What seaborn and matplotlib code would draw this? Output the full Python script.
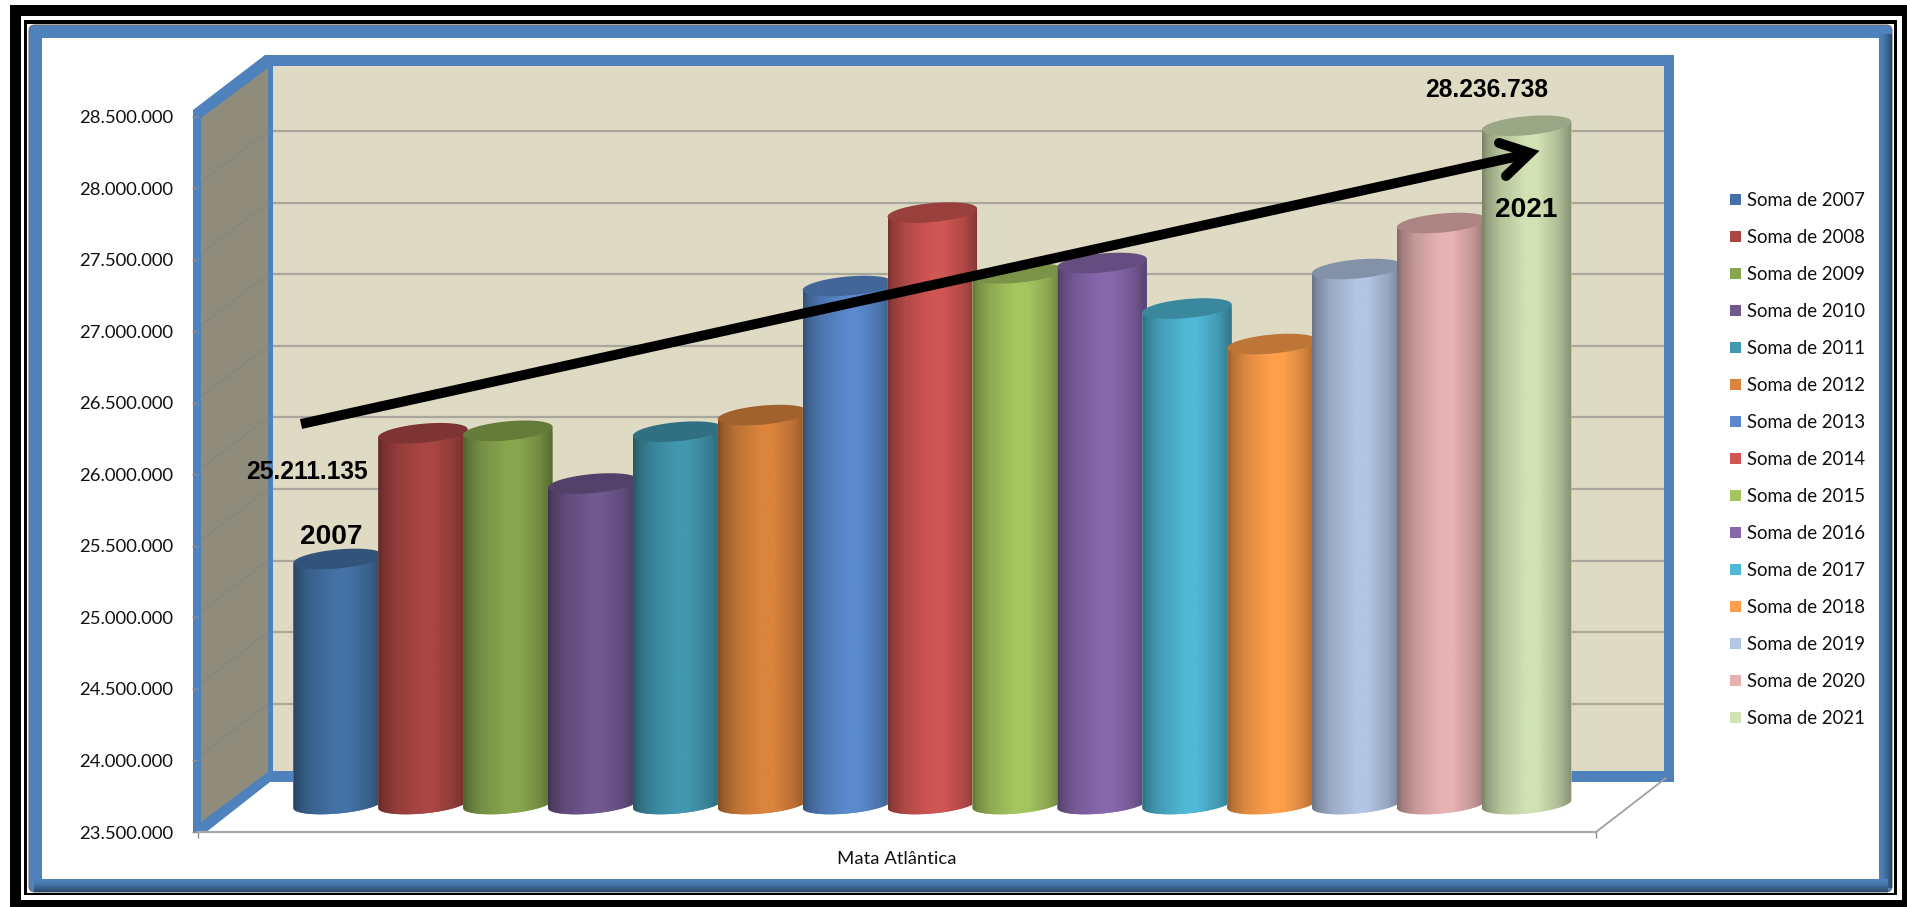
import numpy as np
import pandas as pd
import matplotlib
matplotlib.use("Agg")
import matplotlib.pyplot as plt
import seaborn as sns
from matplotlib.colors import to_rgb
from matplotlib.patches import Patch, Polygon, Rectangle, FancyBboxPatch
from matplotlib.path import Path
from matplotlib.ticker import FuncFormatter, FixedLocator

# ---------- data ----------
anos = [2007, 2008, 2009, 2010, 2011, 2012, 2013, 2014, 2015, 2016, 2017, 2018, 2019, 2020, 2021]
valores = [25211135, 26089000, 26106000, 25738000, 26100000, 26216000, 27117000, 27630000,
           27206000, 27278000, 26960000, 26712000, 27236000, 27557000, 28236738]
cores = ["#4472A6", "#AA4643", "#88A64E", "#71588F", "#4198AF", "#DB843D", "#5A8ACD", "#CF5653",
         "#A5C65F", "#8868AD", "#4FB8D6", "#FF9F4B", "#B2C5E4", "#E8B2B3", "#D1E2B3"]
yticks = [23500000 + 500000 * k for k in range(11)]
categoria = "Mata Atlântica"
rotulos = ["Soma de %d" % a for a in anos]

W, H = 1908, 907
sns.set_theme(style="white")
plt.rcParams["font.family"] = ["Lato", "DejaVu Sans"]
fig = plt.figure(figsize=(W / 100, H / 100), dpi=100, facecolor="white")

def px_axes(l, t, r, b, **kw):
    return fig.add_axes([l / W, 1 - b / H, (r - l) / W, (b - t) / H], **kw)

BLUE = "#4F81BD"
STEP = 500000 / 71.6     # value per pixel

# ---------- background decoration (pixel coordinates) ----------
bg = px_axes(0, 0, W, H, zorder=0)
bg.set_xlim(0, W); bg.set_ylim(H, 0); bg.axis("off")
def rect(x0, y0, x1, y1, c, z=1):
    bg.add_patch(Rectangle((x0, y0), x1 - x0, y1 - y0, fc=c, ec="none", zorder=z))
rect(10, 5, 1908, 907, "black", 1)
rect(21, 16, 1902, 900, "white", 2)
rect(24.5, 20, 1897, 895, "black", 3)
rect(27.5, 23.5, 1894, 893, "white", 3.5)
bg.add_patch(FancyBboxPatch((33, 29), 1855, 859, boxstyle="round,pad=4,rounding_size=6",
                            fc=BLUE, ec="#6F6F6F", lw=0.8, zorder=4))
def strip(x0, y0, x1, y1, horizontal):
    g = np.linspace(0, 1, 32)
    c0, c1 = np.array(to_rgb(BLUE)), np.array(to_rgb("#2A4766"))
    ramp = np.array([c0 + (c1 - c0) * t ** 1.6 for t in g])
    img = ramp[None, :, :] if horizontal else ramp[:, None, :]
    bg.imshow(img, extent=[x0, x1, y1, y0], aspect="auto", zorder=5, interpolation="bilinear")
strip(1879, 34, 1892, 888, True)
strip(34, 879, 1888, 892, False)
bg.set_xlim(0, W); bg.set_ylim(H, 0)
rect(42, 38, 1879, 879, "white", 6)

# blue wall frame and side wall
bg.add_patch(Polygon([(193, 110), (265, 55), (1674, 55), (1674, 782), (270, 782),
                      (205, 833), (193, 833)], closed=True, fc=BLUE, ec="none", zorder=7))
bg.add_patch(Polygon([(201, 118), (268, 68), (268, 772), (201, 822)], closed=True,
                     fc="#8F8C7B", ec="none", zorder=8))
for k, v in enumerate(yticks[1:-1]):
    yf = 116.5 + (yticks[-1] - v) / STEP
    yb = 131 + (28000000 - v) / STEP
    bg.plot([201, 268], [yf - 6, yb], color="#84837C", lw=0.6, zorder=9)

# ---------- back wall ----------
wall = px_axes(273, 66, 1664, 771, zorder=1, facecolor="#DFDAC3")
wall.set_xlim(0, 1)
wall.set_ylim(28000000 - (771 - 131) * STEP, 28000000 + (131 - 66) * STEP)
wall.yaxis.set_major_locator(FixedLocator(yticks))
wall.tick_params(left=False, bottom=False, labelleft=False, labelbottom=False)
wall.grid(axis="y", color="#A9A79B", lw=1.6)
wall.grid(axis="x", visible=False)
sns.despine(ax=wall, left=True, bottom=True)

# ---------- front plane: axis ticks and labels ----------
front = px_axes(198, 116.5, 1596, 832, zorder=2)
front.patch.set_alpha(0)
front.set_xlim(0, 1)
front.set_ylim(yticks[0], yticks[-1])
front.set_yticks(yticks)
front.yaxis.set_major_formatter(FuncFormatter(lambda v, _: f"{v:,.0f}".replace(",", ".")))
front.set_xticks([0.5], [categoria])
front.set_xticks([0, 1], minor=True)
front.tick_params(axis="y", left=True, length=4.3, width=1, color="#8C8C8C", pad=13.5,
                  labelsize=13.3, labelcolor="#111111")
front.tick_params(axis="x", which="major", length=0, pad=13.7, labelsize=13.3, labelcolor="#111111")
front.tick_params(axis="x", which="minor", bottom=True, length=4.5, width=1, color="#8C8C8C")
for s in ("left", "right", "top"):
    front.spines[s].set_visible(False)
front.spines["bottom"].set_color("#A8A8A8")
front.spines["bottom"].set_linewidth(1.6)

# ---------- bars ----------
PITCH = 84.9
BASE_Y = 804
X0 = 338
bars = px_axes(250, 80, 1620, 830, zorder=3)
bars.patch.set_alpha(0)
df = pd.DataFrame({"serie": rotulos, "valor": valores})
sns.barplot(data=df, x="serie", y="valor", hue="serie", palette=cores, dodge=False,
            width=89.5 / PITCH, legend=False, ax=bars, saturation=1)
xlim = ((250 - X0) / PITCH, (1620 - X0) / PITCH)
ylim = (23500000 - (830 - BASE_Y) * STEP, 23500000 + (BASE_Y - 80) * STEP)
bars.axis("off")

profile_t = [0, .05, .2, .48, .62, .85, 1]
profile_v = [.58, .70, .86, 1, 1, .84, .64]
shade = np.interp(np.linspace(0, 1, 96), profile_t, profile_v)
b_px, tilt_px = 9.5, 4.0
for i, p in enumerate(bars.patches):
    x0, w, top = p.get_x(), p.get_width(), p.get_height()
    cx, a = x0 + w / 2, w / 2
    col = np.array(to_rgb(cores[i]))
    def arc(cy, t):
        return np.column_stack([cx + a * np.cos(t),
                                cy + (b_px * np.sin(t) + tilt_px * np.cos(t)) * STEP])
    base = 23500000
    low = arc(base, np.linspace(0, -np.pi, 60))
    tl, tr = arc(top, np.array([np.pi]))[0], arc(top, np.array([0.0]))[0]
    verts = np.vstack([tl, tr, low, tl])
    clip = Path(verts)
    p.set_clip_path(clip, transform=bars.transData)
    p.set_zorder(2 + 2 * i)
    img = np.clip(shade[None, :, None] * col[None, None, :], 0, 1)
    im = bars.imshow(img, extent=[x0, x0 + w, ylim[0], top + 20 * STEP], aspect="auto",
                     zorder=2 + 2 * i, interpolation="bilinear")
    im.set_clip_path(clip, transform=bars.transData)
    cap = arc(top, np.linspace(0, 2 * np.pi, 90))
    bars.add_patch(Polygon(cap, closed=True, fc=col * 0.74, ec="none", zorder=3 + 2 * i))
bars.set_xlim(*xlim)
bars.set_ylim(*ylim)

# ---------- overlay: arrow, annotations, floor edge, legend ----------
ov = px_axes(0, 0, W, H, zorder=4)
ov.set_xlim(0, W); ov.set_ylim(H, 0); ov.axis("off"); ov.patch.set_alpha(0)
ov.plot([1596, 1666], [832, 778], color="#A0A0A0", lw=1.3, zorder=1)
ov.plot([301, 1528], [424, 154], color="black", lw=7.2, solid_capstyle="butt", zorder=3)
ov.plot([1499, 1530, 1506], [143, 153, 176], color="black", lw=7.2,
        solid_capstyle="round", solid_joinstyle="miter", zorder=3)
bold = dict(family=["Liberation Sans"], fontweight="bold", color="black",
            ha="center", va="center", zorder=4)
ov.text(1487, 90, "28.236.738", fontsize=17.7, **bold)
ov.text(1526, 210, "2021", fontsize=20.2, **bold)
ov.text(307, 472, "25.211.135", fontsize=17.7, **bold)
ov.text(331, 537, "2007", fontsize=20.2, **bold)

handles = [Patch(fc=c, ec="none") for c in cores]
ov.legend(handles, rotulos, loc="upper left", bbox_to_anchor=(1730 / W, 1 - 192 / H),
          bbox_transform=fig.transFigure, frameon=False, fontsize=13.4, labelcolor="#111111",
          handlelength=0.6, handleheight=0.6, handletextpad=0.3, labelspacing=1.075,
          borderpad=0, borderaxespad=0)

fig.savefig("out.png", dpi=100)
